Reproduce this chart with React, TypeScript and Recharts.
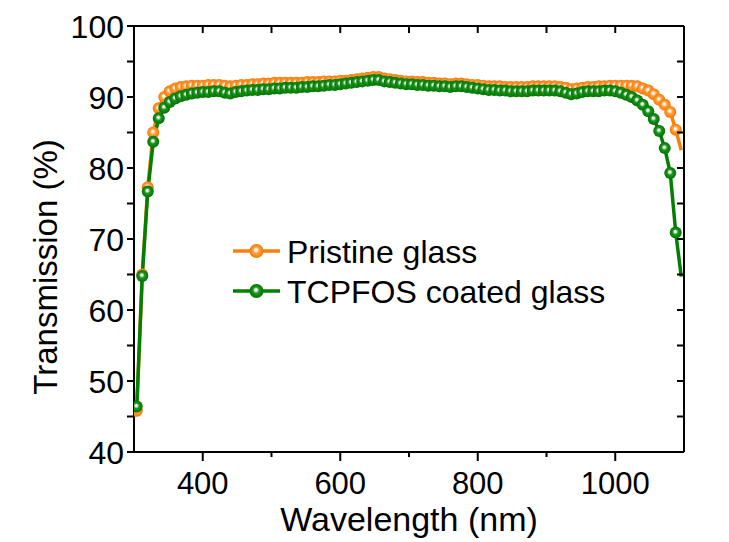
import React from 'react';
import { LineChart, Line, XAxis, YAxis } from 'recharts';

const wavelengths = [
  304, 312, 320, 328, 336, 344, 352, 360, 368, 376, 384, 392, 400, 408, 416, 424, 432, 440, 448, 456,
  464, 472, 480, 488, 496, 504, 512, 520, 528, 536, 544, 552, 560, 568, 576, 584, 592, 600, 608, 616,
  624, 632, 640, 648, 656, 664, 672, 680, 688, 696, 704, 712, 720, 728, 736, 744, 752, 760, 768, 776,
  784, 792, 800, 808, 816, 824, 832, 840, 848, 856, 864, 872, 880, 888, 896, 904, 912, 920, 928, 936,
  944, 952, 960, 968, 976, 984, 992, 1000, 1008, 1016, 1024, 1032, 1040, 1048, 1056, 1064, 1072, 1080, 1088, 1096,
];

const pristine = [
  45.8, 65.0, 77.3, 85.0, 88.4, 90.0, 90.8, 91.2, 91.4, 91.5, 91.6, 91.6, 91.6, 91.7, 91.7, 91.7, 91.6, 91.5, 91.6, 91.7,
  91.7, 91.8, 91.8, 91.9, 91.9, 92.0, 92.0, 92.0, 92.0, 92.0, 92.0, 92.1, 92.1, 92.1, 92.2, 92.2, 92.2, 92.3, 92.3, 92.4,
  92.5, 92.6, 92.7, 92.8, 92.8, 92.6, 92.5, 92.4, 92.3, 92.2, 92.2, 92.1, 92.1, 92.0, 92.0, 91.9, 91.9, 91.8, 91.9, 91.9,
  91.8, 91.7, 91.7, 91.6, 91.5, 91.5, 91.5, 91.4, 91.4, 91.4, 91.4, 91.4, 91.5, 91.5, 91.5, 91.5, 91.5, 91.4, 91.3, 91.1,
  91.2, 91.3, 91.4, 91.4, 91.5, 91.5, 91.6, 91.6, 91.6, 91.6, 91.6, 91.5, 91.2, 90.9, 90.4, 89.6, 88.9, 87.9, 85.4, 82.5,
];

const coated = [
  46.4, 64.8, 76.7, 83.7, 87.0, 88.5, 89.3, 89.8, 90.1, 90.3, 90.5, 90.6, 90.7, 90.7, 90.8, 90.8, 90.6, 90.5, 90.7, 90.8,
  90.9, 91.0, 91.0, 91.1, 91.1, 91.2, 91.2, 91.3, 91.3, 91.3, 91.4, 91.4, 91.5, 91.5, 91.6, 91.7, 91.7, 91.8, 91.9, 92.0,
  92.1, 92.2, 92.3, 92.4, 92.4, 92.2, 92.1, 92.0, 91.9, 91.8, 91.8, 91.7, 91.7, 91.6, 91.6, 91.5, 91.5, 91.4, 91.5, 91.5,
  91.4, 91.3, 91.2, 91.1, 91.0, 91.0, 90.9, 90.9, 90.8, 90.8, 90.8, 90.8, 90.9, 90.9, 90.9, 90.9, 90.9, 90.8, 90.6, 90.4,
  90.5, 90.7, 90.8, 90.8, 90.8, 90.9, 90.9, 90.8, 90.6, 90.3, 90.0, 89.5, 88.9, 88.0, 86.9, 85.2, 82.8, 79.3, 70.9, 64.7,
];

// the last sample of each curve is drawn without a symbol
const markerless = [1096];

const seriesNames = ['Pristine glass', 'TCPFOS coated glass'];
const xTicks = [400, 500, 600, 700, 800, 900, 1000];
const xLabelTicks = [400, 600, 800, 1000];
const yTicks = [40, 45, 50, 55, 60, 65, 70, 75, 80, 85, 90, 95, 100];
const yLabelTicks = [40, 50, 60, 70, 80, 90, 100];
const xTitle = 'Wavelength (nm)';
const yTitle = 'Transmission (%)';

const data = wavelengths.map((wl, i) => ({ wl, pristine: pristine[i], coated: coated[i] }));

const FONT = '"Liberation Sans", Arial, sans-serif';
const ORANGE = '#ff7f0a';
const GREEN = '#008000';

const W = 721;
const H = 534;
const M = { top: 17, right: 44, left: 0, bottom: 0 };
const YW = 126;
const XH = 90;

const makeDot = (grad: string) => (props: any) => {
  const { cx, cy, payload, index } = props;
  if (cx == null || cy == null || markerless.includes(payload.wl)) {
    return <g key={`e-${grad}-${index}`} />;
  }
  return <circle key={`d-${grad}-${index}`} cx={cx} cy={cy} r={6} fill={`url(#${grad})`} />;
};

const YTick = (props: any) => {
  const { x, y, payload } = props;
  const v = payload.value;
  return (
    <g>
      <line x1={x - 7} x2={x} y1={y} y2={y} stroke="#000" strokeWidth={2} />
      {yLabelTicks.includes(v) && (
        <text x={x - 10} y={y} dy="0.36em" textAnchor="end" fontSize={32} fontFamily={FONT} fill="#000">
          {v}
        </text>
      )}
    </g>
  );
};

const XTick = (props: any) => {
  const { x, y, payload } = props;
  const v = payload.value;
  const major = xLabelTicks.includes(v);
  return (
    <g>
      <line x1={x} x2={x} y1={y} y2={y + (major ? 9 : 5)} stroke="#000" strokeWidth={2} />
      {major && (
        <text x={x} y={y + 42} textAnchor="middle" fontSize={31} fontFamily={FONT} fill="#000">
          {v}
        </text>
      )}
    </g>
  );
};

const TopTick = (props: any) => {
  const { x, y } = props;
  return <line x1={x} x2={x} y1={y} y2={y + 7} stroke="#000" strokeWidth={2} />;
};

const RightTick = (props: any) => {
  const { x, y } = props;
  return <line x1={x - 7} x2={x} y1={y} y2={y} stroke="#000" strokeWidth={2} />;
};

export default function App() {
  const legendItems = [
    { name: seriesNames[0], color: ORANGE, grad: 'ballOrange' },
    { name: seriesNames[1], color: GREEN, grad: 'ballGreen' },
  ];
  return (
    <div style={{ position: 'relative', width: W, height: H, background: '#fff' }}>
      <svg width={0} height={0} style={{ position: 'absolute' }}>
        <defs>
          <radialGradient id="ballOrange" cx="50%" cy="50%" r="50%" fx="45%" fy="40%">
            <stop offset="0%" stopColor="#ffffff" />
            <stop offset="18%" stopColor="#fff3e4" />
            <stop offset="45%" stopColor="#ffa040" />
            <stop offset="100%" stopColor="#f57800" />
          </radialGradient>
          <radialGradient id="ballGreen" cx="50%" cy="50%" r="50%" fx="45%" fy="40%">
            <stop offset="0%" stopColor="#ffffff" />
            <stop offset="18%" stopColor="#e6f3e6" />
            <stop offset="45%" stopColor="#209420" />
            <stop offset="100%" stopColor="#007400" />
          </radialGradient>
        </defs>
      </svg>
      <LineChart width={W} height={H} data={data} margin={M}>
        <XAxis
          dataKey="wl"
          type="number"
          domain={[300, 1100]}
          ticks={xTicks}
          allowDataOverflow
          height={XH}
          axisLine={{ stroke: '#000', strokeWidth: 2 }}
          tickLine={false}
          tickSize={0}
          tickMargin={0}
          tick={<XTick />}
          interval={0}
        />
        <XAxis
          xAxisId="top"
          orientation="top"
          dataKey="wl"
          type="number"
          domain={[300, 1100]}
          ticks={xTicks}
          allowDataOverflow
          height={1}
          axisLine={{ stroke: '#000', strokeWidth: 2 }}
          tickLine={false}
          tickSize={0}
          tickMargin={0}
          tick={<TopTick />}
          interval={0}
        />
        <YAxis
          type="number"
          domain={[40, 100]}
          ticks={yTicks}
          allowDataOverflow
          width={YW}
          axisLine={{ stroke: '#000', strokeWidth: 2 }}
          tickLine={false}
          tickSize={0}
          tickMargin={0}
          tick={<YTick />}
          interval={0}
        />
        <YAxis
          yAxisId="right"
          orientation="right"
          type="number"
          domain={[40, 100]}
          ticks={yTicks}
          allowDataOverflow
          width={1}
          axisLine={{ stroke: '#000', strokeWidth: 2 }}
          tickLine={false}
          tickSize={0}
          tickMargin={0}
          tick={<RightTick />}
          interval={0}
        />
        <Line
          xAxisId="top"
          yAxisId="right"
          dataKey="pristine"
          legendType="none"
          stroke="none"
          strokeWidth={0}
          dot={false}
          activeDot={false}
          isAnimationActive={false}
          type="linear"
        />
        <Line
          dataKey="pristine"
          name={seriesNames[0]}
          stroke={ORANGE}
          strokeWidth={3.5}
          dot={makeDot('ballOrange')}
          activeDot={false}
          isAnimationActive={false}
          type="linear"
        />
        <Line
          dataKey="coated"
          name={seriesNames[1]}
          stroke={GREEN}
          strokeWidth={3.5}
          dot={makeDot('ballGreen')}
          activeDot={false}
          isAnimationActive={false}
          type="linear"
        />
      </LineChart>
      <svg
        width={W}
        height={H}
        style={{ position: 'absolute', left: 0, top: 0, pointerEvents: 'none' }}
      >
        <text x={401} y={523} textAnchor="middle" fontSize={34} fontFamily={FONT} fill="#000">
          {xTitle}
        </text>
        <text
          transform="translate(49,259) rotate(-90)"
          textAnchor="middle"
          fontSize={33}
          fontFamily={FONT}
          fill="#000"
        >
          {yTitle}
        </text>
        {legendItems.map((it, i) => {
          const cy = 243 + i * 40;
          return (
            <g key={it.name}>
              <line x1={225} x2={272} y1={cy} y2={cy} stroke={it.color} strokeWidth={3.5} />
              <circle cx={248.5} cy={cy} r={7} fill={`url(#${it.grad})`} />
              <text x={279} y={cy + 11.5} fontSize={32} fontFamily={FONT} fill="#000">
                {it.name}
              </text>
            </g>
          );
        })}
      </svg>
    </div>
  );
}
